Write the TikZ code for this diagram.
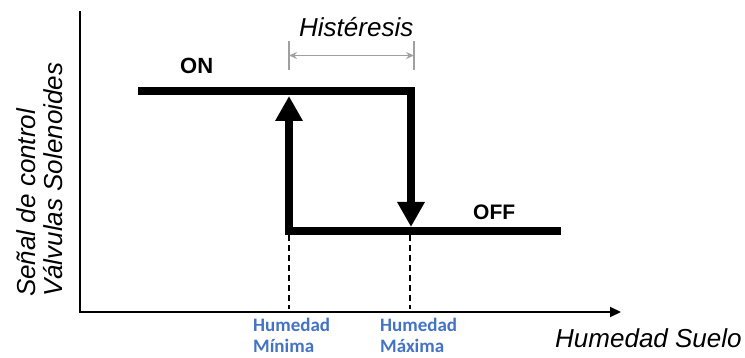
\documentclass[tikz,border=0pt]{standalone}
\usepackage{fontspec}
\setmainfont{Liberation Sans}
\newfontfamily\labfont{Carlito}
\usetikzlibrary{arrows.meta}
\definecolor{dimgray}{HTML}{A0A0A0}
\definecolor{labblue}{HTML}{4472C4}
\begin{document}
\begin{tikzpicture}[x=1pt,y=-1pt,
  axis/.style={line width=2pt,-{Triangle[length=11pt 0 0,width=10pt 0 0]}},
  switchline/.style={line width=8pt,-{Triangle[length=25pt 0 0,width=26pt 0 0]}},
  guide/.style={line width=1.2pt,dash pattern=on 6pt off 4pt},
  dimline/.style={draw=dimgray,line width=1.4pt},
  dimarrow/.style={dimline,{Stealth[length=8pt 0 0,width=7pt 0 0]}-{Stealth[length=8pt 0 0,width=7pt 0 0]}},
  statetxt/.style={inner sep=0pt,anchor=base west,font=\bfseries\fontsize{22}{26}\selectfont},
  axistxt/.style={inner sep=0pt,anchor=base west,font=\itshape\fontsize{26}{30}\selectfont},
  levtxt/.style={inner sep=0pt,anchor=base west,text=labblue,font=\labfont\bfseries\fontsize{19}{22}\selectfont}]
  \useasboundingbox (0,0) rectangle (745,358);

  % axes
  \coordinate (ytop) at (80,11);
  \coordinate (orig) at (80,312);
  \coordinate (xend) at (621,312);
  \draw[axis,line join=miter] (ytop) -- (orig) -- (xend);

  % hysteresis loop
  \coordinate (onl) at (138,91.5);
  \coordinate (onr) at (411,91.5);
  \coordinate (dtip) at (411,227);
  \coordinate (offr) at (561,231);
  \coordinate (offl) at (289,231);
  \coordinate (utip) at (289,96);
  \draw[switchline,line join=miter] (onl) -- (onr) -- (dtip);
  \draw[switchline,line join=miter] (offr) -- (offl) -- (utip);

  % thresholds
  \coordinate (gmin) at (289,235);
  \coordinate (gmin0) at (289,309);
  \coordinate (gmax) at (410,235);
  \coordinate (gmax0) at (410,309);
  \draw[guide] (gmin) -- (gmin0);
  \draw[guide] (gmax) -- (gmax0);

  % hysteresis width
  \coordinate (ta) at (289,41);
  \coordinate (tb) at (289,70);
  \coordinate (tc) at (414,41);
  \coordinate (td) at (414,70);
  \coordinate (da) at (289,55.5);
  \coordinate (db) at (414,55.5);
  \draw[dimline] (ta) -- (tb);
  \draw[dimline] (tc) -- (td);
  \draw[dimarrow] (da) -- (db);
  \node[axistxt] (hyst) at (299,37) {Histéresis};

  % labels
  \node[statetxt] (on) at (180,74) {ON};
  \node[statetxt,font=\bfseries\fontsize{21}{25}\selectfont] (off) at (473,220) {OFF};
  \node[axistxt] (xlab) at (555,348) {Humedad Suelo};
  \node[axistxt,rotate=90] (ylab1) at (35,297) {Señal de control};
  \node[axistxt,rotate=90] (ylab2) at (62,297) {Válvulas Solenoides};
  \node[levtxt] (min1) at (253,331) {Humedad};
  \node[levtxt] (min2) at (253,352.5) {Mínima};
  \node[levtxt] (max1) at (380,331) {Humedad};
  \node[levtxt] (max2) at (380,352.5) {Máxima};
\end{tikzpicture}
\end{document}
